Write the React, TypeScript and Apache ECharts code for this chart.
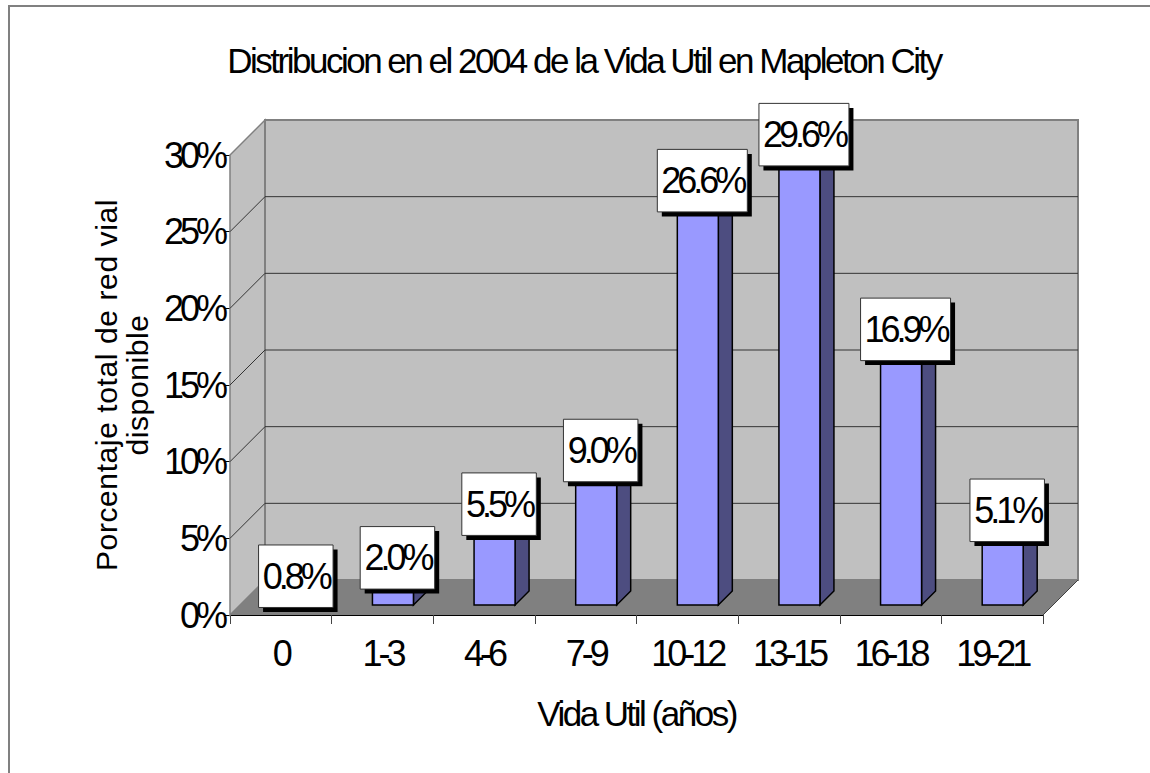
import React, { useEffect, useRef } from "react";
import * as echarts from "echarts";

const categories = ["0", "1-3", "4-6", "7-9", "10-12", "13-15", "16-18", "19-21"];
const values = [0.8, 2.0, 5.5, 9.0, 26.6, 29.6, 16.9, 5.1];
const yTicks = [0, 5, 10, 15, 20, 25, 30];
const titleText = "Distribucion en el 2004 de la Vida Util en Mapleton City";
const xTitle = "Vida Util (años)";
const yTitle = "Porcentaje total de red vial\ndisponible";

const SANS = '"Liberation Sans", Arial, sans-serif';
const DEPTH = 35;
const BAR_SHIFT = 10.5;
const BAR_DEPTH = 14;
const BAR_W = 41;

const CSS = `
#root text[style*="36px"], #root text[font-size="36"] { letter-spacing: -4px; }
#root text[style*="35px"], #root text[font-size="35"] { letter-spacing: -2.5px; }
#root text[style*="30px"], #root text[font-size="30"] { letter-spacing: 0.6px; }
`;

export default function App() {
  const ref = useRef<HTMLDivElement>(null);
  useEffect(() => {
    const chart = echarts.init(ref.current!, undefined, { renderer: "svg" });
    const wallSeries = {
      type: "custom",
      silent: true,
      clip: false,
      z: 1,
      data: [[0]],
      renderItem: (_p: any, api: any) => {
        const band = api.size([1, 0])[0];
        const x0 = api.coord([0, 0])[0] - band / 2;
        const y0 = api.coord([0, 0])[1];
        const yTop = api.coord([0, 30])[1];
        const x1 = x0 + band * categories.length;
        const d = DEPTH;
        const children: any[] = [
          { type: "polygon", shape: { points: [[x0, y0], [x0 + d, y0 - d], [x0 + d, yTop - d], [x0, yTop]] }, style: { fill: "#c0c0c0", stroke: "#808080", lineWidth: 1.5 } },
          { type: "rect", shape: { x: x0 + d, y: yTop - d, width: x1 - x0, height: y0 - yTop }, style: { fill: "#c0c0c0", stroke: "#808080", lineWidth: 2 } },
          { type: "polygon", shape: { points: [[x0, y0], [x0 + d, y0 - d], [x1 + d, y0 - d], [x1, y0]] }, style: { fill: "#808080" } },
          { type: "line", shape: { x1, y1: y0, x2: x1 + d, y2: y0 - d }, style: { stroke: "#404040", lineWidth: 1 } },
        ];
        yTicks.forEach((t) => {
          const y = api.coord([0, t])[1];
          if (t > 0 && t < 30) {
            children.push({ type: "polyline", shape: { points: [[x0, y], [x0 + d, y - d], [x1 + d, y - d]] }, style: { fill: "none", stroke: "#333333", lineWidth: 1 } });
          }
        });
        return { type: "group", children };
      },
    };
    const barSeries = {
      type: "custom",
      silent: true,
      clip: false,
      z: 2,
      data: values.map((v, i) => [i, v]),
      encode: { x: 0, y: 1 },
      renderItem: (_p: any, api: any) => {
        const i = api.value(0);
        const v = api.value(1);
        const [cx, y0] = api.coord([i, 0]);
        const yT = api.coord([i, v])[1];
        const left = cx - BAR_W / 2 + BAR_SHIFT;
        const right = left + BAR_W;
        const base = y0 - BAR_SHIFT + 0.5;
        const top = yT - BAR_SHIFT + 0.5;
        const e = BAR_DEPTH;
        const stroke = { stroke: "#000000", lineWidth: 1.5 };
        return {
          type: "group",
          children: [
            { type: "polygon", shape: { points: [[right, base], [right + e, base - e], [right + e, top - e], [right, top]] }, style: { fill: "#4d4d80", ...stroke } },
            { type: "polygon", shape: { points: [[left, top], [left + e, top - e], [right + e, top - e], [right, top]] }, style: { fill: "#7a7acc", ...stroke } },
            { type: "rect", shape: { x: left, y: top, width: BAR_W, height: base - top }, style: { fill: "#9999ff", ...stroke } },
          ],
        };
      },
    };
    const labelSeries = {
      type: "custom",
      silent: true,
      clip: false,
      z: 3,
      data: values.map((v, i) => [i, v]),
      encode: { x: 0, y: 1 },
      renderItem: (_p: any, api: any) => {
        const i = api.value(0);
        const v = api.value(1);
        const [cx] = api.coord([i, 0]);
        const yT = api.coord([i, v])[1];
        const text = v.toFixed(1) + "%";
        const w = v >= 10 ? 90 : 74.5;
        const h = 62.5;
        const mx = cx + 15;
        const my = yT - 26.5;
        return {
          type: "group",
          children: [
            { type: "rect", shape: { x: mx - w / 2 + 4.5, y: my - h / 2 + 4.5, width: w, height: h }, style: { fill: "#000000" } },
            { type: "rect", shape: { x: mx - w / 2, y: my - h / 2, width: w, height: h }, style: { fill: "#ffffff", stroke: "#333333", lineWidth: 1 } },
            { type: "text", x: mx, y: my, style: { text, fill: "#000000", font: `36px ${SANS}`, align: "center", verticalAlign: "middle" } },
          ],
        };
      },
    };
    chart.setOption({
      animation: false,
      backgroundColor: "#ffffff",
      grid: { left: 230, top: 155, width: 813, height: 460, containLabel: false },
      title: {
        text: titleText,
        left: 579,
        top: 38,
        textAlign: "center",
        textStyle: { fontFamily: SANS, fontSize: 35, fontWeight: "normal", color: "#000000" },
      },
      xAxis: {
        type: "category",
        data: categories,
        boundaryGap: true,
        name: xTitle,
        nameLocation: "middle",
        nameGap: 81,
        nameMoveOverlap: false,
        nameTextStyle: { fontFamily: SANS, fontSize: 35, color: "#000000" },
        axisLine: { lineStyle: { color: "#000000", width: 1 } },
        axisTick: { show: true, alignWithLabel: false, length: 9, lineStyle: { color: "#444444" } },
        axisLabel: { margin: 20, fontFamily: SANS, fontSize: 36, color: "#000000", interval: 0 },
        splitLine: { show: false },
      },
      yAxis: {
        type: "value",
        min: 0,
        max: 30,
        interval: 5,
        name: yTitle,
        nameLocation: "middle",
        nameGap: 77,
        nameMoveOverlap: false,
        nameTextStyle: { fontFamily: SANS, fontSize: 30, color: "#000000", lineHeight: 31 },
        axisLine: { show: true, lineStyle: { color: "#000000", width: 1 } },
        axisTick: { show: true, length: 5, lineStyle: { color: "#000000" } },
        axisLabel: { margin: 6, fontFamily: SANS, fontSize: 36, color: "#000000", formatter: "{value}%" },
        splitLine: { show: false },
      },
      graphic: [
        { type: "rect", silent: true, z: -1, shape: { x: 9, y: 6, width: 1200, height: 820 }, style: { fill: "none", stroke: "#808080", lineWidth: 2 } },
      ],
      series: [wallSeries, barSeries, labelSeries],
    });
    return () => chart.dispose();
  }, []);
  return (
    <>
      <style>{CSS}</style>
      <div ref={ref} style={{ position: "fixed", left: 0, top: 0, width: 1150, height: 773 }} />
    </>
  );
}
